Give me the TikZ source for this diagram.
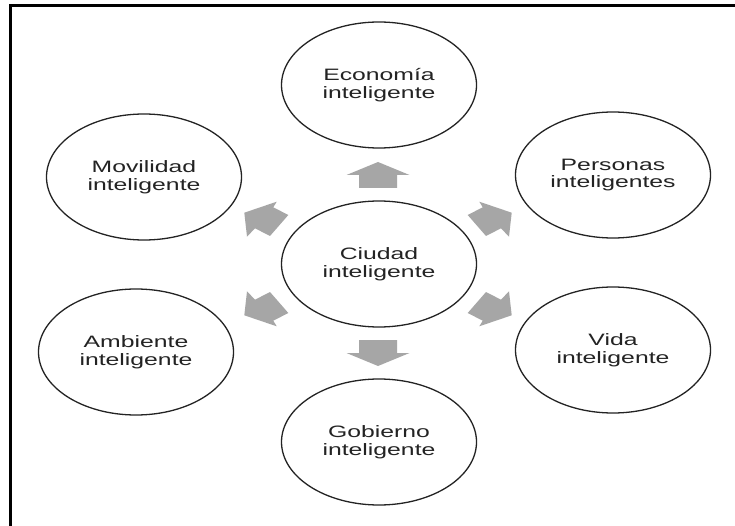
\documentclass[tikz,border=0pt]{standalone}
\usepackage{fontspec}
\setmainfont{Liberation Sans}[FakeStretch=1.5]
\usetikzlibrary{shapes.geometric}
\definecolor{arrowgray}{RGB}{166,166,166}
\definecolor{inkgray}{RGB}{35,35,35}
\begin{document}
\begin{tikzpicture}[x=1pt,y=-1pt,
  bubble/.style={ellipse, draw=inkgray, line width=1.3pt, minimum width=195pt,
    minimum height=126pt, inner sep=0pt, align=center, text=inkgray,
    font=\fontsize{16.5}{17.5}\selectfont},
  blockarrow/.style={fill=arrowgray},
  frameline/.style={line width=2.6pt, draw=black}]
\useasboundingbox (0,0) rectangle (735,526);
\fill[white] (0,0) rectangle (735,526);
\draw[frameline] (735,5.3) -- (10.7,5.3) -- (10.7,526);

\node[bubble] (c)   at (379,264) {Ciudad\\inteligente};
\node[bubble] (eco) at (379,85)  {Economía\\inteligente};
\node[bubble] (gob) at (379,442) {Gobierno\\inteligente};
\node[bubble] (mov) at (144,177) {Movilidad\\inteligente};
\node[bubble] (amb) at (136,352) {Ambiente\\inteligente};
\node[bubble] (per) at (613,175) {Personas\\inteligentes};
\node[bubble] (vid) at (613,350) {Vida\\inteligente};

\coordinate (o) at (378,264);
\begin{scope}[shift={(o)}]
  % up / down
  \foreach \s in {1,-1}{
    \begin{scope}[yscale=\s]
      \fill[blockarrow] (-19,-76) -- (-19,-89) -- (-31.5,-89) -- (0,-102)
        -- (31.5,-89) -- (19,-89) -- (19,-76) -- cycle;
    \end{scope}
  }
  % diagonal
  \foreach \sx/\sy in {1/1,1/-1,-1/1,-1/-1}{
    \begin{scope}[xscale=\sx,yscale=\sy]
      \fill[blockarrow] (-133.7,-51.3) -- (-101.3,-62.3) -- (-104.7,-56.7)
        -- (-89.7,-49) -- (-108,-28) -- (-123,-35.7) -- (-131,-27.3) -- cycle;
    \end{scope}
  }
\end{scope}
\end{tikzpicture}
\end{document}
